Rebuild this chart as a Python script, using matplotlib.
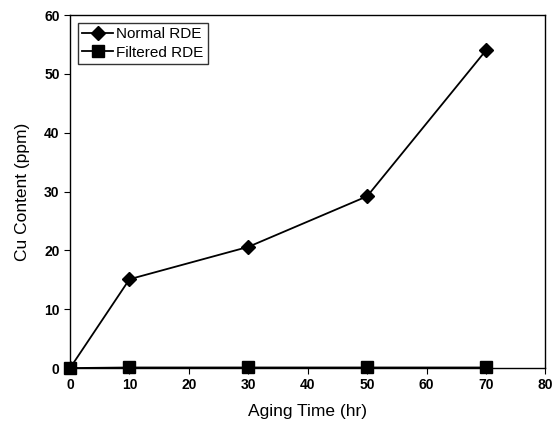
from matplotlib import pyplot as plt
import numpy as np

plt.rcParams['font.family'] = ['Liberation Sans', 'DejaVu Sans']

aging_time = [0, 10, 30, 50, 70]
normal_rde = [0, 15.1, 20.6, 29.2, 54.0]
filtered_rde = [0, 0.1, 0.1, 0.1, 0.1]

fig = plt.figure(figsize=(5.56, 4.29), dpi=100)
ax = fig.add_axes([0.126, 0.142, 0.855, 0.823])

ax.plot(aging_time, normal_rde, color='black', marker='D', markersize=7, lw=1.3, label='Normal RDE')
ax.plot(aging_time, filtered_rde, color='black', marker='s', markersize=9, lw=1.3, label='Filtered RDE', clip_on=False)

ax.set_xlim(0, 80)
ax.set_ylim(0, 60)
ax.set_xticks(np.arange(0, 81, 10))
ax.set_yticks(np.arange(0, 61, 10))
ax.tick_params(direction='out', length=4, labelsize=10)
for lab in ax.get_xticklabels() + ax.get_yticklabels():
    lab.set_fontweight('bold')
for s in ax.spines.values():
    s.set_linewidth(1.0)

ax.set_xlabel('Aging Time (hr)', fontsize=12.5, labelpad=8)
ax.set_ylabel('Cu Content (ppm)', fontsize=12.5, labelpad=10)

leg = ax.legend(loc='upper left', fontsize=11, frameon=True, fancybox=False,
                edgecolor='black', borderpad=0.3, labelspacing=0.3,
                handlelength=2.0, handletextpad=0.2, borderaxespad=0.5)
leg.get_frame().set_linewidth(1.0)

plt.savefig('out.png')
